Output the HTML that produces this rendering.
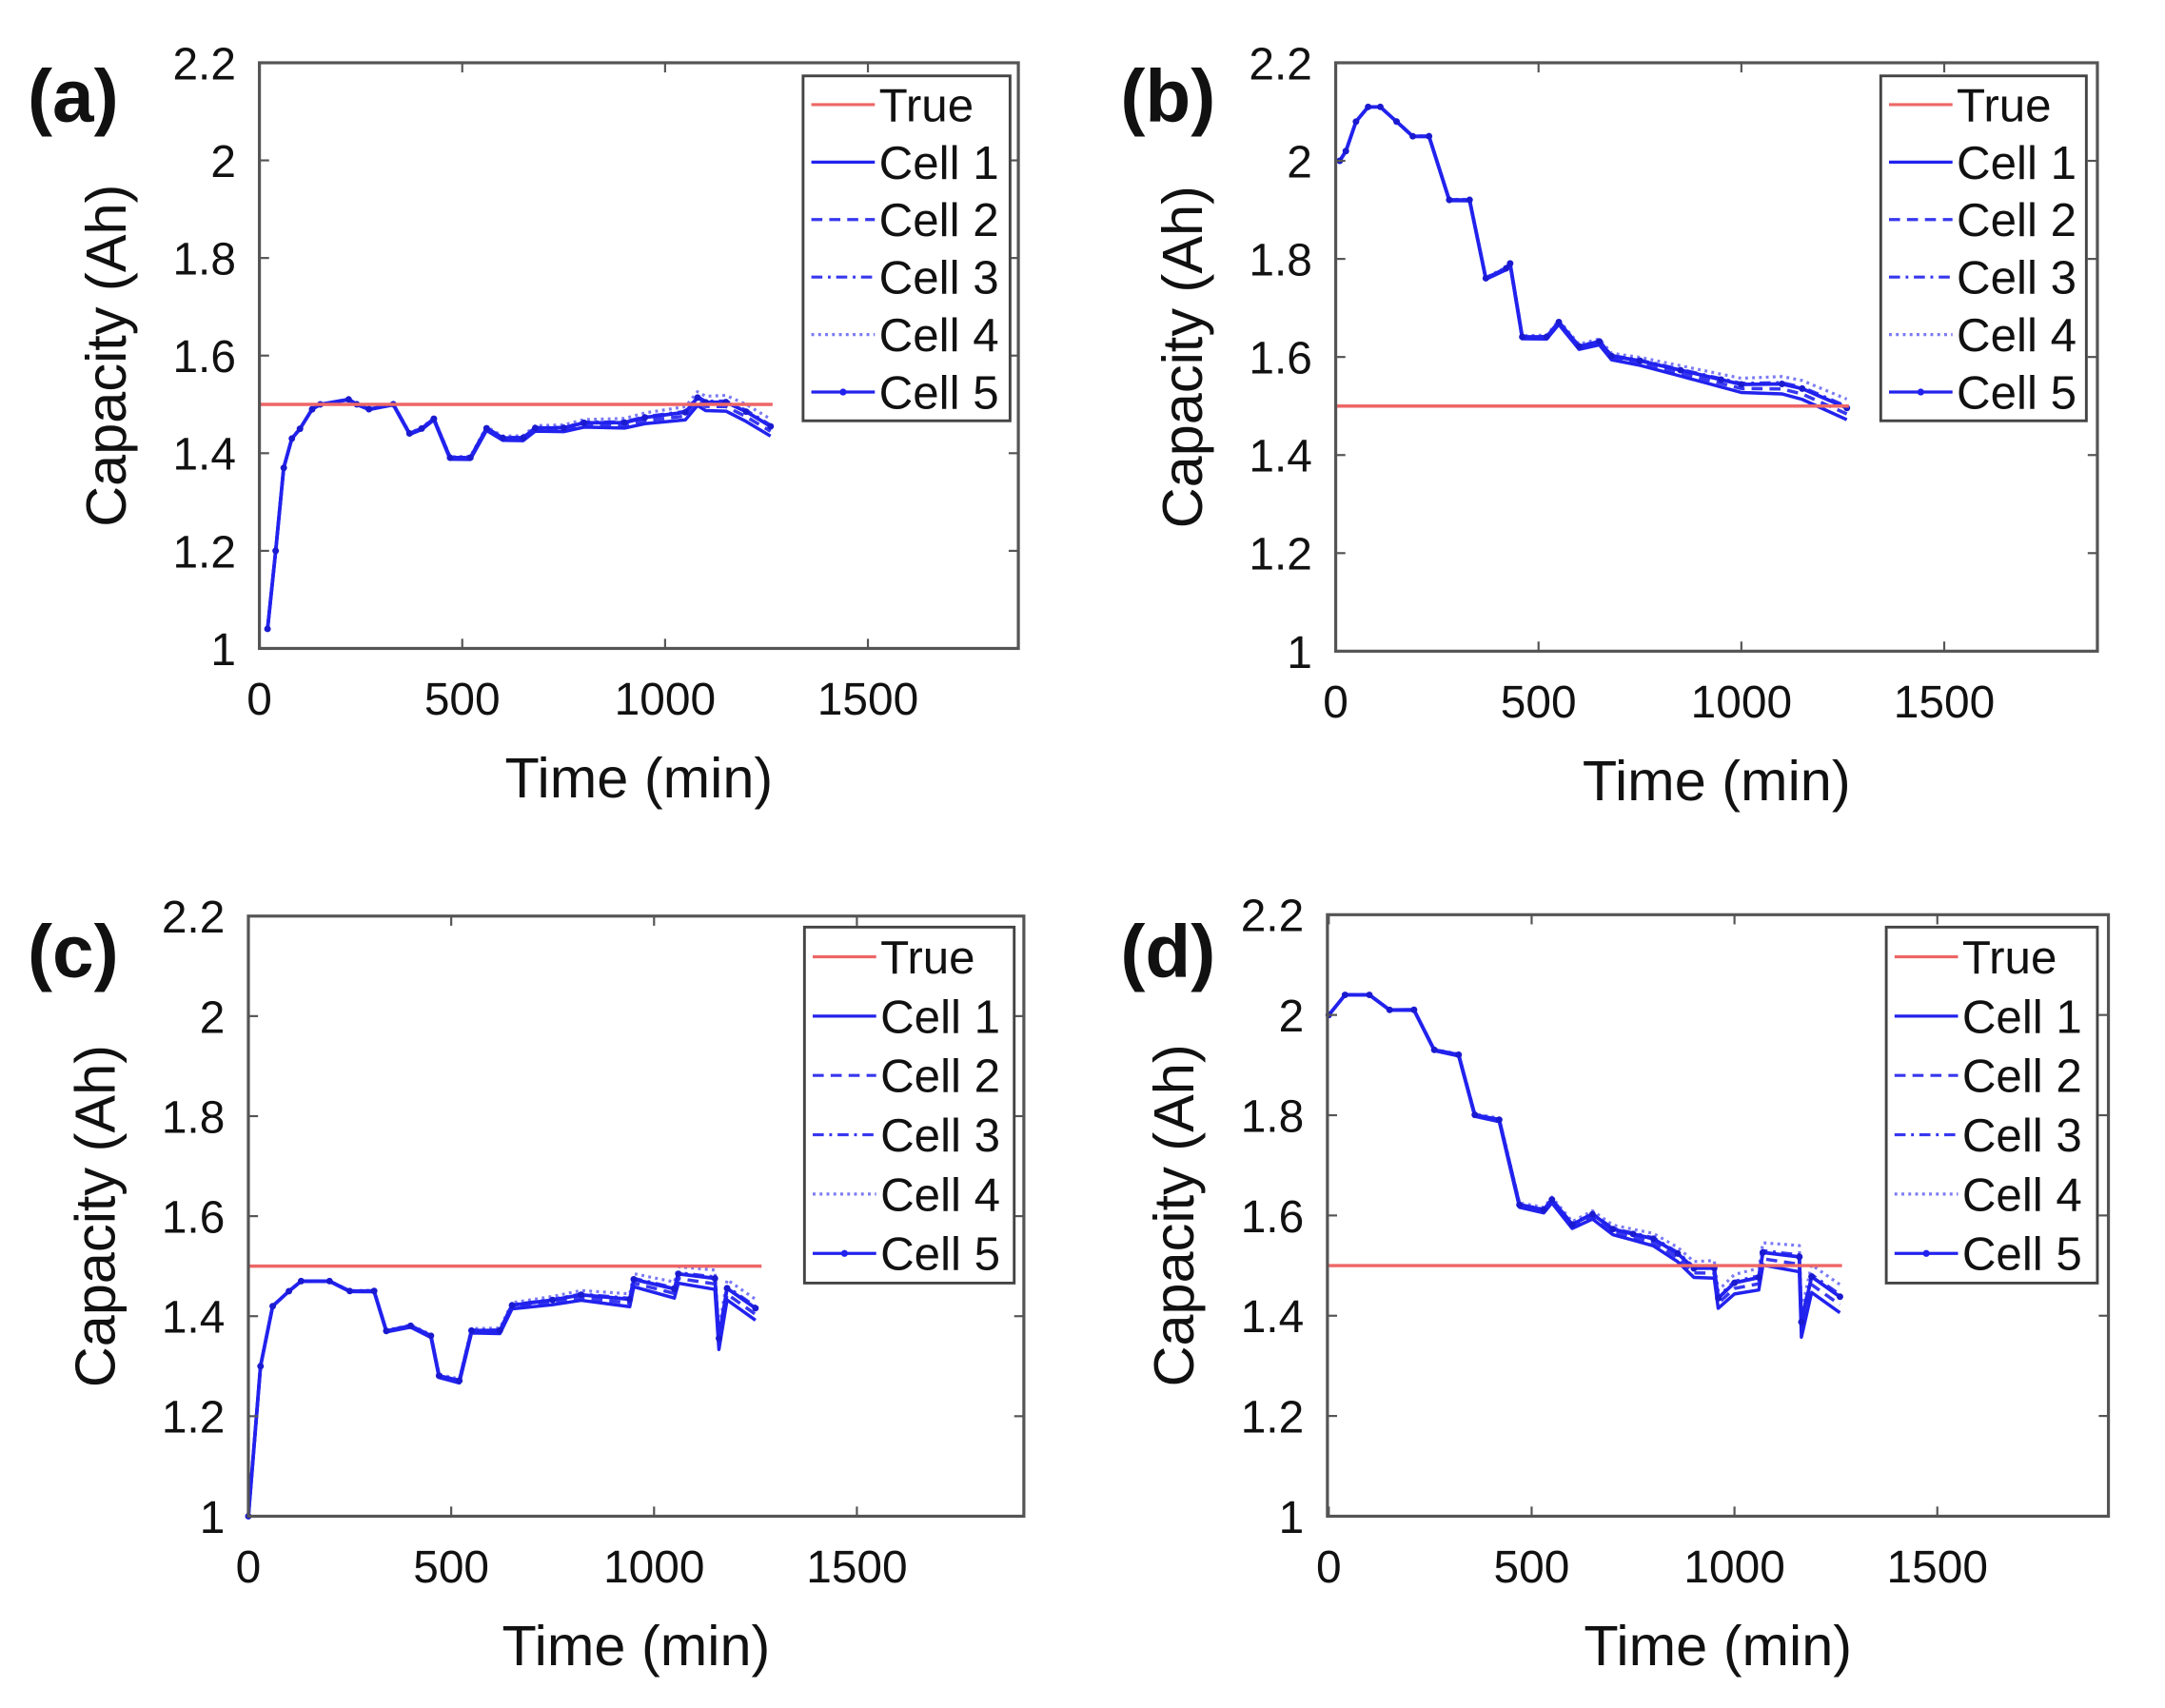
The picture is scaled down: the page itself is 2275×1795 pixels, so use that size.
<!DOCTYPE html>
<html><head><meta charset="utf-8">
<style>
html,body{margin:0;padding:0;background:#fff;}
svg{display:block;}
text{font-family:"Liberation Sans",sans-serif;fill:#111;}
</style></head>
<body>
<svg id="s" width="2275" height="1795" viewBox="0 0 1569 1238" preserveAspectRatio="none" xmlns="http://www.w3.org/2000/svg">
<rect width="1569" height="1238" fill="#fff"/>
<text x="20" y="88" font-size="54" font-weight="bold">(a)</text>
<text x="812" y="88" font-size="54" font-weight="bold">(b)</text>
<text x="20" y="708" font-size="54" font-weight="bold">(c)</text>
<text x="812" y="708" font-size="54" font-weight="bold">(d)</text>
</svg>
<script>
var NS="http://www.w3.org/2000/svg",S=document.getElementById("s");
function el(t,a,p){var e=document.createElementNS(NS,t);for(var k in a)e.setAttribute(k,a[k]);(p||S).appendChild(e);return e;}
function txt(x,y,s,a){var e=el("text",Object.assign({x:x,y:y},a||{}));e.textContent=s;return e;}
var panels=[
{L:188,R:738,T:45.5,B:470,x0:188,lg:[582,55,732,305],
d:[[20,1.04],[40,1.2],[60,1.37],[80,1.43],[100,1.45],[130,1.49],[150,1.5],[220,1.51],[240,1.5],[270,1.49],[330,1.5],[370,1.44],[400,1.45],[430,1.47],[470,1.39],[520,1.39],[560,1.45],[600,1.43],[650,1.43],[680,1.45],[750,1.45],[800,1.46],[900,1.46],[950,1.47],[1050,1.48],[1080,1.51],[1100,1.5],[1150,1.5],[1200,1.48],[1260,1.45]],sp:0.025},
{L:968,R:1520,T:45.5,B:472,x0:968,lg:[1363,55,1512,305],
d:[[10,2.0],[25,2.02],[50,2.08],[80,2.11],[110,2.11],[150,2.08],[190,2.05],[230,2.05],[280,1.92],[330,1.92],[370,1.76],[420,1.78],[430,1.79],[460,1.64],[520,1.64],[550,1.67],[600,1.62],[650,1.63],[680,1.6],[750,1.59],[850,1.57],[950,1.55],[1000,1.54],[1100,1.54],[1150,1.53],[1260,1.49]],sp:0.03},
{L:180,R:742,T:664,B:1099,x0:180,lg:[583,672,735,930],
d:[[0,1.0],[30,1.3],[60,1.42],[100,1.45],[130,1.47],[200,1.47],[250,1.45],[310,1.45],[340,1.37],[400,1.38],[450,1.36],[470,1.28],[520,1.27],[550,1.37],[620,1.37],[650,1.42],[750,1.43],[820,1.44],[940,1.43],[950,1.47],[1050,1.45],[1060,1.48],[1150,1.47],[1160,1.35],[1180,1.45],[1250,1.41]],sp:0.03},
{L:962,R:1528,T:663,B:1099,x0:963,lg:[1367,672,1520,930],
d:[[0,2.0],[40,2.04],[100,2.04],[150,2.01],[210,2.01],[260,1.93],[320,1.92],[360,1.8],[420,1.79],[470,1.62],[530,1.61],[550,1.63],[600,1.58],[650,1.6],[700,1.57],[750,1.56],[800,1.55],[860,1.52],[900,1.49],[950,1.49],[960,1.43],[1000,1.46],[1060,1.47],[1070,1.52],[1160,1.51],[1165,1.38],[1190,1.47],[1260,1.43]],sp:0.04}
];
var blue="#2222ee",styles=[{da:"",o:1,w:2.4},{da:"8,5",o:0.9,w:2.4},{da:"8,4,2,4",o:0.9,w:2.4},{da:"2,3",o:0.6,w:2.2},{da:"",o:1,w:2.6}];
var offs=[-0.6,-0.2,0.3,0.8,0.2];
panels.forEach(function(p){
 var px=147/500,py=(p.B-p.T)/1.2;
 function X(t){return p.x0+t*px;} function Y(v){return p.B-(v-1)*py;}
 for(var c=0;c<5;c++){
  var pts=p.d.map(function(q){var f=Math.min(1,q[0]/1200);return X(q[0]).toFixed(1)+","+Y(q[1]+offs[c]*p.sp*f*f).toFixed(1);}).join(" ");
  var st=styles[c];
  el("polyline",{points:pts,fill:"none",stroke:blue,"stroke-width":st.w,"stroke-dasharray":st.da,opacity:st.o,"stroke-linejoin":"round"});
  if(c==4){p.d.forEach(function(q){var f=Math.min(1,q[0]/1200);el("circle",{cx:X(q[0]),cy:Y(q[1]+offs[c]*p.sp*f*f),r:2.4,fill:"#1a1ad0"});});}
 }
 el("line",{x1:X(0),x2:X(1265),y1:Y(1.5),y2:Y(1.5),stroke:"#ee6666","stroke-width":2.4});
 el("rect",{x:p.L,y:p.T,width:p.R-p.L,height:p.B-p.T,fill:"none",stroke:"#555","stroke-width":2.2});
 for(var i=0;i<=6;i++){var y=p.B-i*(p.B-p.T)/6;
  el("line",{x1:p.L,x2:p.L+7,y1:y,y2:y,stroke:"#555","stroke-width":1.5});
  el("line",{x1:p.R,x2:p.R-7,y1:y,y2:y,stroke:"#555","stroke-width":1.5});
  var lab=(1+i*0.2).toFixed(1).replace(/\.0$/,"");
  txt(p.L-17,y+12,lab,{"font-size":33,"text-anchor":"end"});}
 for(var j=0;j<=3;j++){var x=X(j*500);
  el("line",{x1:x,x2:x,y1:p.B,y2:p.B-7,stroke:"#555","stroke-width":1.5});
  el("line",{x1:x,x2:x,y1:p.T,y2:p.T+7,stroke:"#555","stroke-width":1.5});
  txt(x,p.B+48,String(j*500),{"font-size":33,"text-anchor":"middle"});}
 txt((p.L+p.R)/2,p.B+108,"Time (min)",{"font-size":41,"text-anchor":"middle"});
 var cx=p.L-97,cy=(p.T+p.B)/2;
 txt(cx,cy,"Capacity (Ah)",{"font-size":41,"text-anchor":"middle",transform:"rotate(-90 "+cx+" "+cy+")"});
 var g=p.lg;el("rect",{x:g[0],y:g[1],width:g[2]-g[0],height:g[3]-g[1],fill:"#fff",stroke:"#444","stroke-width":2});
 var names=["True","Cell 1","Cell 2","Cell 3","Cell 4","Cell 5"],h=(g[3]-g[1])/6;
 names.forEach(function(n,k){var y=g[1]+h*(k+0.5);
  var a={x1:g[0]+6,x2:g[0]+52,y1:y,y2:y,"stroke-width":2.2};
  if(k==0){a.stroke="#ee6666";}else{var st=styles[k-1];a.stroke=blue;a["stroke-dasharray"]=st.da;a.opacity=st.o;}
  el("line",a);
  if(k==5)el("circle",{cx:g[0]+29,cy:y,r:2.5,fill:blue});
  txt(g[0]+55,y+12,n,{"font-size":34});
 });
});
</script>
</body></html>
